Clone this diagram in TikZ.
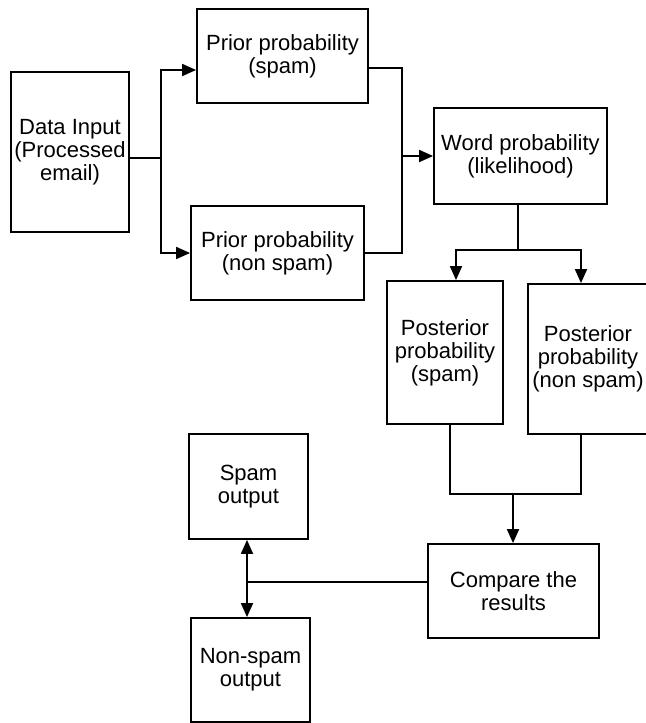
\documentclass[tikz,border=0pt]{standalone}
\usepackage{fontspec}
\setmainfont{Liberation Sans}
\usetikzlibrary{arrows.meta}

\begin{document}
\begin{tikzpicture}[x=0.5pt, y=-0.5pt,
        box/.style={draw, line width=0.9pt, align=center, inner sep=0pt,
                    font=\fontsize{11}{11.5}\selectfont},
        link/.style={line width=0.9pt},
        arr/.style={link, -{Triangle[length=7pt, width=6pt]}}]
    \useasboundingbox (0,0) rectangle (645,723);
    % boxes
    \node[box, minimum width=59pt, minimum height=80pt] (input) at (70,152) {Data Input\\(Processed\\email)};
    \node[box, minimum width=85.5pt, minimum height=47pt] (priorspam) at (282.5,56) {Prior probability\\(spam)};
    \node[box, minimum width=86.5pt, minimum height=47pt] (priornon) at (277.5,253) {Prior probability\\(non spam)};
    \node[box, minimum width=86.5pt, minimum height=48pt] (word) at (520.5,156) {Word probability\\(likelihood)};
    \node[box, minimum width=58pt, minimum height=71.5pt] (postspam) at (445,352.5) {Posterior\\probability\\(spam)};
    \node[box, minimum width=60pt, minimum height=75pt] (postnon) at (588,359) {Posterior\\probability\\(non spam)};
    \node[box, minimum width=59.5pt, minimum height=52.5pt] (spamout) at (248.5,486.5) {Spam\\output};
    \node[box, minimum width=85.5pt, minimum height=47pt] (compare) at (513.5,591) {Compare the\\results};
    \node[box, minimum width=59.5pt, minimum height=52pt] (nonout) at (250.5,670) {Non-spam\\output};
    % junctions
    \coordinate (split) at (161,158);
    \coordinate (merge) at (402,156);
    \coordinate (fork) at (518,250);
    \coordinate (collect) at (513,494);
    \coordinate (branch) at (247,582);
    % connectors
    \draw[link] ([yshift=-3pt]input.east) -- (split);
    \draw[arr] (split) |- ([yshift=-7pt]priorspam.west);
    \draw[arr] (split) |- (priornon.west);
    \draw[link] ([yshift=-6pt]priorspam.east) -| (priornon.east -| merge) -- (priornon.east);
    \draw[arr] (merge) -- (word.west);
    \draw[link] (word.south -| fork) -- (fork);
    \draw[arr] (fork) -| ([xshift=5.5pt]postspam.north);
    \draw[arr] (fork) -| ([xshift=-3.5pt]postnon.north);
    \draw[link] ([xshift=2.5pt]postspam.south) |- (collect) -| ([xshift=-3.5pt]postnon.south);
    \draw[arr] (collect) -- (compare.north -| collect);
    \draw[link] ([yshift=4.5pt]compare.west) -- (branch);
    \draw[arr] (branch) -- (spamout.south -| branch);
    \draw[arr] (branch) -- (nonout.north -| branch);
\end{tikzpicture}
\end{document}
